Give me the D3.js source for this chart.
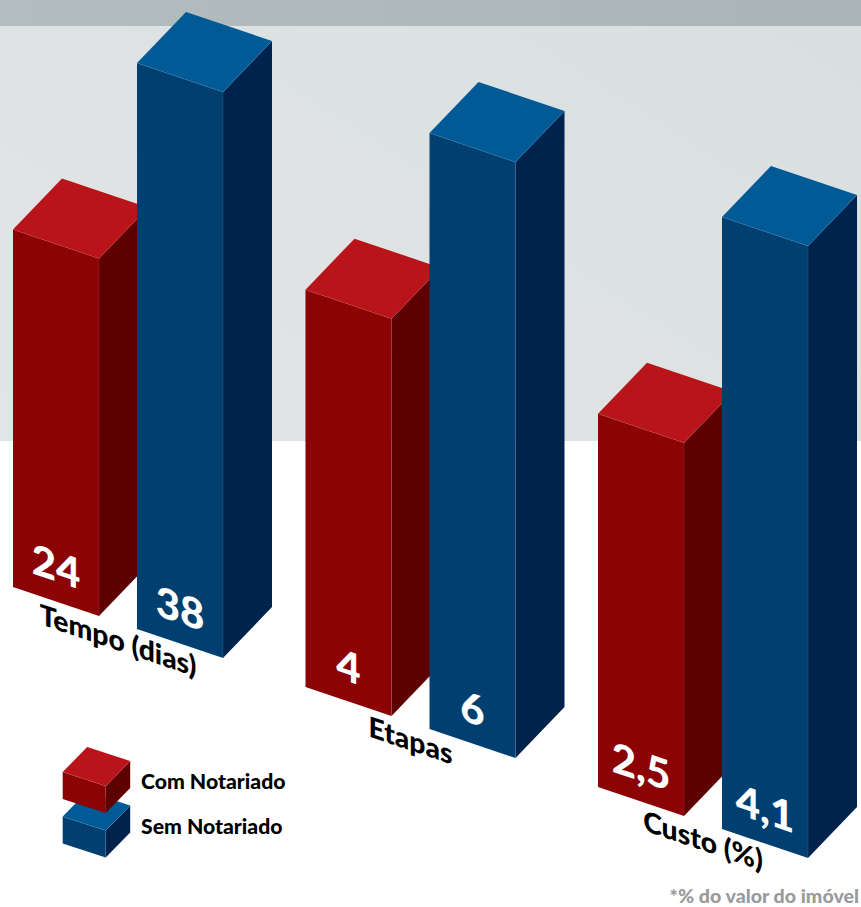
<!DOCTYPE html>
<html lang="pt">
<head>
<meta charset="utf-8">
<title>Com e sem Notariado</title>
<script src="https://cdn.jsdelivr.net/npm/d3@7/dist/d3.min.js"></script>
<style>
  html, body { margin: 0; padding: 0; background: #fff; }
  svg { display: block; }
  text { font-family: Lato, "Open Sans", sans-serif; }
</style>
</head>
<body>
<script>
// Chart values
const categories = ["Tempo (dias)", "Etapas", "Custo (%)"];
const seriesNames = ["Com Notariado", "Sem Notariado"];
const comNotariado = [24, 4, 2.5];
const semNotariado = [38, 6, 4.1];
const footnote = "*% do valor do imóvel";

const seriesValues = [comNotariado, semNotariado];
const width = 861, height = 907;

// Every box is an oblique prism: width runs down-right, depth runs up-right
const boxWidth = [86, 29];
const boxDepth = [49, -51];
const tilt = Math.atan2(boxWidth[1], boxWidth[0]) * 180 / Math.PI;

// Each group of bars has a scale of its own, so heights compare only inside a group
const groupExtent = [566, 596, 612];
const heightScales = categories.map((_, i) =>
  d3.scaleLinear()
    .domain([0, Math.max(comNotariado[i], semNotariado[i])])
    .range([0, groupExtent[i]]));

// The floor is a diagonal: groups step right and down together
const groupX = d3.scalePoint().domain(categories).range([13, 598]);
const groupY = d3.scalePoint().domain(categories).range([587, 787]);
const seriesX = d3.scalePoint().domain(seriesNames).range([0, 124]);
const seriesY = d3.scalePoint().domain(seriesNames).range([0, 42]);

const palette = {
  "Com Notariado": { front: "#8b0304", side: "#5e0000", top: "#b81419", edge: "#d8595c" },
  "Sem Notariado": { front: "#003f70", side: "#00234d", top: "#005a96", edge: "#4f8fc0" }
};

const formatValue = d3.formatLocale({
  decimal: ",", thousands: ".", grouping: [3], currency: ["R$", ""]
}).format(".2~f");

const svg = d3.select("body").append("svg")
  .attr("width", width).attr("height", height)
  .attr("viewBox", [0, 0, width, height]);

// Backdrop gradients
const defs = svg.append("defs");
const panelGradient = defs.append("linearGradient")
  .attr("id", "panelFill")
  .attr("x1", "0").attr("y1", "0.9").attr("x2", "1").attr("y2", "0.1");
panelGradient.append("stop").attr("offset", "0").attr("stop-color", "#e2e5e6");
panelGradient.append("stop").attr("offset", "1").attr("stop-color", "#d9dfe0");
const stripGradient = defs.append("linearGradient").attr("id", "stripFill");
stripGradient.append("stop").attr("offset", "0").attr("stop-color", "#b3bcbe");
stripGradient.append("stop").attr("offset", "1").attr("stop-color", "#abb4b6");

svg.append("rect").attr("width", width).attr("height", 441).attr("fill", "url(#panelFill)");
svg.append("rect").attr("width", width).attr("height", 26).attr("fill", "url(#stripFill)");

const line = d3.line();

// Draws one prism whose front-left floor corner sits at (x, y)
function drawBox(parent, x, y, h, colors, w = boxWidth, d = boxDepth) {
  const a = [x, y - h];                     // front-left, top
  const b = [a[0] + w[0], a[1] + w[1]];     // front-right, top
  const c = [b[0] + d[0], b[1] + d[1]];     // rear-right, top
  const e = [a[0] + d[0], a[1] + d[1]];     // rear-left, top
  const a0 = [x, y];
  const b0 = [b[0], b[1] + h];
  const c0 = [c[0], c[1] + h];
  const g = parent.append("g");
  g.append("path").attr("d", line([a, b, b0, a0]) + "Z").attr("fill", colors.front);
  g.append("path").attr("d", line([b, c, c0, b0]) + "Z").attr("fill", colors.side);
  g.append("path").attr("d", line([a, e, c, b]) + "Z").attr("fill", colors.top);
  // Thin highlights along the visible ridges
  g.append("path")
    .attr("d", line([a, b, b0]) + line([b, c]))
    .attr("fill", "none")
    .attr("stroke", colors.edge)
    .attr("stroke-width", 0.6)
    .attr("stroke-opacity", 0.4);
}

// Lettering follows the slant of the front faces while its stems stay upright
const slanted = (x, y) => `translate(${x},${y}) skewY(${tilt})`;

// Bars
categories.forEach((cat, i) => {
  const group = svg.append("g").attr("class", "group");
  seriesNames.forEach((name, s) => {
    const value = seriesValues[s][i];
    const x = groupX(cat) + seriesX(name);
    const y = groupY(cat) + seriesY(name);
    drawBox(group, x, y, heightScales[i](value), palette[name]);
    group.append("text")
      .attr("transform", slanted(x + boxWidth[0] / 2, y + boxWidth[1] / 2 - 20))
      .attr("text-anchor", "middle")
      .attr("fill", "#fff")
      .attr("font-size", 42)
      .attr("font-weight", 900)
      .text(formatValue(value));
  });
  // Group caption lies on the floor, under the bars
  group.append("text")
    .attr("transform", slanted(groupX(cat) + 105, groupY(cat) + 63.5))
    .attr("text-anchor", "middle")
    .attr("fill", "#000")
    .attr("font-size", 28.3)
    .attr("font-weight", 900)
    .text(cat);
});

// Legend: two small stacked boxes, the lower one drawn first
const legendY = d3.scalePoint().domain(seriesNames).range([799, 843.5]);
const legend = svg.append("g").attr("class", "legend");
seriesNames.slice().reverse().forEach(name => {
  drawBox(legend, 62.7, legendY(name), 27, palette[name], [43, 14], [24.5, -25]);
});
seriesNames.forEach(name => {
  legend.append("text")
    .attr("x", 141)
    .attr("y", legendY(name) - 10)
    .attr("fill", "#000")
    .attr("font-size", 21.2)
    .attr("font-weight", 900)
    .text(name);
});

svg.append("text")
  .attr("x", 859).attr("y", 903)
  .attr("text-anchor", "end")
  .attr("fill", "#9a9a9a")
  .attr("font-size", 19.6)
  .attr("font-weight", 900)
  .text(footnote);
</script>
</body>
</html>
